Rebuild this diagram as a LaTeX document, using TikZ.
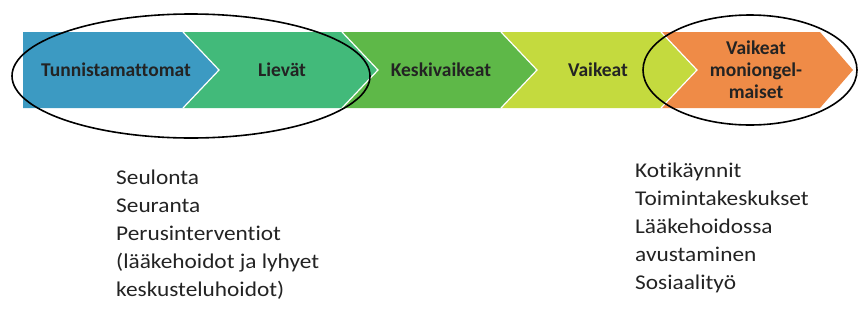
\documentclass[tikz,border=0pt]{standalone}
\usepackage{fontspec}
\setmainfont{Carlito}[Ligatures=NoCommon]
\newfontfamily\widefont{Carlito}[Ligatures=NoCommon, FakeStretch=1.11]
\definecolor{cblue}{RGB}{60,154,194}
\definecolor{cmint}{RGB}{66,186,122}
\definecolor{cgreen}{RGB}{94,184,72}
\definecolor{cyellow}{RGB}{196,218,62}
\definecolor{corange}{RGB}{239,139,71}
\definecolor{ctext}{RGB}{35,35,35}
\tikzset{
  chev/.style={draw=white, line width=1.2pt},
  lbl/.style={font=\fontsize{19.5}{22}\selectfont\bfseries, text=ctext, align=center, inner sep=0pt},
  body/.style={font=\widefont\fontsize{21}{28}\selectfont, text=ctext, align=left, inner sep=0pt, anchor=north west},
  ring/.style={draw=black, line width=1.6pt}
}
\begin{document}
\begin{tikzpicture}[x=1pt,y=-1pt]
\useasboundingbox (0,0) rectangle (859,327);
% chevrons
\fill[fill=cblue] (23,32) -- (183,32) -- (219,70) -- (183,108) -- (23,108) -- cycle;
\fill[fill=cmint] (183,32) -- (342,32) -- (378,70) -- (342,108) -- (183,108) -- (219,70) -- cycle;
\fill[fill=cgreen] (342,32) -- (501,32) -- (537,70) -- (501,108) -- (342,108) -- (378,70) -- cycle;
\fill[fill=cyellow] (501,32) -- (661,32) -- (697,70) -- (661,108) -- (501,108) -- (537,70) -- cycle;
\fill[fill=corange] (661,32) -- (820,32) -- (853,70) -- (820,108) -- (661,108) -- (697,70) -- cycle;
\draw[chev] (183,32) -- (219,70) -- (183,108);
\draw[chev] (342,32) -- (378,70) -- (342,108);
\draw[chev] (501,32) -- (537,70) -- (501,108);
\draw[chev] (661,32) -- (697,70) -- (661,108);
% labels
\node[lbl] (l1) at (116,70) {Tunnistamattomat};
\node[lbl] (l2) at (282,70) {Lievät};
\node[lbl] (l3) at (441,70) {Keskivaikeat};
\node[lbl] (l4) at (598,70) {Vaikeat};
\node[lbl] (l5) at (756,70) {Vaikeat\\moniongel-\\maiset};
% ellipses
\draw[ring] (191,76) ellipse [x radius=179, y radius=62];
\draw[ring] (750,70) ellipse [x radius=107, y radius=55];
% texts
\node[body] (t1) at (116,170) {Seulonta\\Seuranta\\Perusinterventiot\\(lääkehoidot ja lyhyet\\keskusteluhoidot)};
\node[body] (t2) at (635,163) {Kotikäynnit\\Toimintakeskukset\\Lääkehoidossa\\avustaminen\\Sosiaalityö};
\end{tikzpicture}
\end{document}
